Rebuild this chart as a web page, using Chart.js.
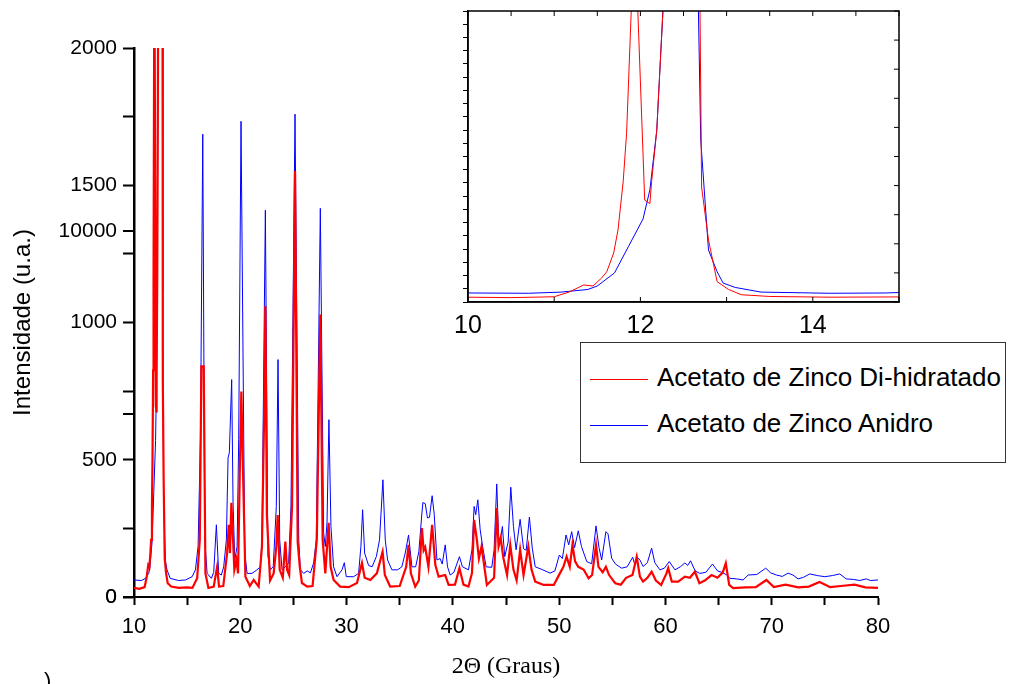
<!DOCTYPE html>
<html lang="pt">
<head>
    <meta charset="UTF-8">
    <title>DRX - Acetato de Zinco</title>
    <script src="https://cdn.jsdelivr.net/npm/chart.js"></script>
    <style>
        body {
            margin: 0;
            background: #fff;
            overflow: hidden;
            font-family: "Liberation Sans", Arial, sans-serif;
        }
        #wrap { position: relative; width: 1011px; height: 684px; overflow: hidden; }
        #principal { position: absolute; left: 0; top: 0; }
        #detalhe { position: absolute; left: 420px; top: 0; }
        #legenda {
            position: absolute; left: 580px; top: 342px;
            width: 424px; height: 119px;
            border: 1.5px solid #333; background: #fff;
        }
        .item { position: absolute; left: 9px; font-size: 26px; line-height: 30px; color: #000; white-space: nowrap; }
        .traco { display: inline-block; width: 58px; height: 0; border-top: 1px solid; vertical-align: middle; margin-right: 9px; }
        #canto { position: absolute; left: 44px; top: 668px; font-size: 22px; }
    </style>
</head>
<body>
<div id="wrap">
    <canvas id="principal" width="1011" height="684"></canvas>
    <canvas id="detalhe" width="500" height="345"></canvas>
    <div id="legenda"></div>
    <div id="canto">)</div>
</div>
<script>
const anguloDiHidratado = [
    10.0, 10.5, 11.0, 11.18, 11.34, 11.45, 11.55, 11.61, 11.69, 11.74, 11.80, 11.84, 11.90, 11.93, 11.97,
    12.05, 12.11, 12.13, 12.19, 12.27, 12.45, 12.69, 12.71, 12.79, 12.89, 13.02, 13.17, 13.5, 14.2, 15.0,
    15.5, 15.94, 16.19, 16.34, 16.56, 16.72, 17.0, 17.5, 17.82, 18.0, 18.4, 18.76, 18.91, 19.03, 19.16,
    19.32, 19.44, 19.63, 19.79, 19.95, 20.1, 20.26, 20.48, 20.9, 21.26, 21.73, 22.04, 22.26, 22.36, 22.5,
    22.8, 23.14, 23.39, 23.52, 23.71, 24.0, 24.24, 24.4, 24.6, 24.87, 25.15, 25.4, 25.6, 25.8, 26.3,
    26.8, 27.2, 27.53, 27.75, 28.0, 28.31, 28.5, 28.78, 29.4, 30.2, 30.98, 31.45, 31.7, 32.23, 32.85,
    33.39, 33.6, 34.1, 35.0, 35.61, 35.83, 36.05, 36.46, 36.8, 37.09, 37.25, 37.4, 37.7, 38.05, 38.35,
    38.66, 39.28, 39.6, 40.2, 40.62, 41.0, 41.47, 41.8, 42.0, 42.26, 42.45, 42.7, 43.2, 43.88, 44.13,
    44.3, 44.5, 44.75, 45.1, 45.4, 45.7, 46.0, 46.33, 46.65, 47.1, 47.4, 47.75, 48.54, 49.5, 50.08,
    50.4, 50.7, 51.0, 51.25, 51.5, 51.8, 52.3, 52.77, 53.1, 53.47, 53.7, 54.1, 54.4, 54.7, 55.28,
    55.8, 56.3, 56.9, 57.3, 57.6, 57.9, 58.3, 58.7, 59.1, 59.6, 60.1, 60.26, 60.6, 61.2, 61.83,
    62.3, 62.77, 63.2, 63.7, 64.34, 64.9, 65.4, 65.68, 66.0, 66.37, 67.5, 68.5, 69.5, 70.2, 71.3,
    72.5, 73.5, 74.5, 75.5, 76.5, 77.8, 78.8, 80.0
];
const intensidadeDiHidratado = [
    33, 30, 36, 70, 117, 110, 165, 208, 337, 495, 826, 1160, 2100, 4200, 2000,
    700, 676, 826, 1180, 2100, 9000, 2100, 790, 426, 140, 87, 50, 38, 33, 35,
    33, 68, 208, 840, 840, 86, 33, 38, 110, 38, 40, 160, 263, 160, 343,
    208, 99, 135, 86, 450, 749, 452, 74, 40, 62, 38, 184, 694, 1060, 300,
    60, 86, 184, 299, 99, 70, 202, 99, 80, 330, 1552, 200, 110, 51, 38,
    40, 208, 1029, 208, 86, 270, 110, 62, 38, 36, 51, 124, 70, 62, 86,
    165, 80, 38, 40, 110, 190, 86, 38, 60, 251, 170, 182, 110, 263, 117,
    74, 80, 44, 45, 105, 45, 38, 87, 281, 208, 140, 184, 44, 70, 324,
    184, 215, 143, 80, 190, 100, 60, 172, 80, 184, 100, 56, 44, 44, 87,
    110, 147, 110, 190, 130, 110, 100, 68, 80, 190, 110, 90, 110, 80, 50,
    45, 70, 80, 147, 74, 56, 70, 92, 60, 44, 86, 105, 56, 56, 74,
    70, 92, 50, 60, 80, 70, 90, 123, 44, 32, 35, 36, 62, 36, 45,
    35, 38, 55, 36, 40, 45, 35, 33
];
const anguloAnidro = [
    10.0, 10.7, 11.08, 11.39, 11.5, 11.7, 11.86, 12.03, 12.11, 12.19, 12.27, 12.45, 12.67, 12.70, 12.79,
    12.89, 12.96, 13.10, 13.4, 14.2, 14.84, 15.47, 15.78, 16.03, 16.25, 16.47, 16.66, 16.88, 17.28, 17.5,
    17.75, 17.97, 18.22, 18.44, 18.69, 18.85, 18.97, 19.19, 19.32, 19.48, 19.7, 19.85, 20.07, 20.42, 20.64,
    21.1, 21.57, 21.89, 22.04, 22.36, 22.6, 22.83, 23.1, 23.39, 23.55, 23.71, 23.93, 24.24, 24.55, 24.77,
    25.15, 25.5, 25.65, 25.96, 26.3, 26.6, 26.9, 27.15, 27.53, 27.84, 28.0, 28.16, 28.34, 28.53, 28.78,
    29.1, 29.57, 29.79, 29.97, 30.66, 31.13, 31.35, 31.51, 31.7, 32.07, 32.4, 32.8, 33.1, 33.42, 33.64,
    33.86, 34.26, 34.8, 35.2, 35.52, 35.83, 36.15, 36.5, 36.8, 37.09, 37.18, 37.4, 37.61, 37.8, 38.05,
    38.25, 38.5, 38.8, 39.0, 39.28, 39.5, 39.75, 40.1, 40.62, 40.9, 41.47, 41.8, 42.0, 42.15, 42.35,
    42.57, 42.82, 43.13, 43.66, 43.88, 44.13, 44.3, 44.45, 44.66, 44.88, 45.2, 45.45, 45.7, 45.95, 46.33,
    46.65, 46.9, 47.2, 47.47, 47.75, 48.4, 49.15, 49.6, 50.02, 50.3, 50.65, 50.9, 51.18, 51.45, 51.8,
    52.1, 52.6, 53.06, 53.47, 53.75, 54.0, 54.4, 54.6, 54.94, 55.3, 55.88, 56.4, 56.92, 57.1, 57.35,
    57.6, 57.9, 58.3, 58.7, 59.0, 59.48, 59.9, 60.36, 60.9, 61.4, 61.83, 62.1, 62.36, 62.8, 63.24,
    63.8, 64.43, 64.9, 65.3, 65.75, 66.06, 66.7, 67.31, 67.78, 68.6, 69.44, 69.9, 70.45, 71.0, 71.54,
    72.0, 72.48, 73.0, 73.58, 74.3, 75.0, 75.7, 76.4, 77.0, 77.7, 78.28, 78.9, 79.3, 80.0
];
const intensidadeAnidro = [
    62, 60, 68, 86, 110, 200, 380, 570, 770, 1180, 2100, 14000, 2100, 1113, 357,
    208, 130, 100, 68, 60, 62, 74, 99, 184, 573, 1686, 208, 86, 68, 90,
    263, 86, 80, 110, 208, 507, 525, 792, 343, 135, 184, 573, 1733, 160, 86,
    86, 99, 110, 208, 1409, 150, 99, 110, 330, 865, 208, 99, 110, 124, 330,
    1759, 208, 99, 86, 95, 88, 124, 208, 1416, 233, 184, 270, 646, 257, 110,
    74, 99, 125, 74, 74, 86, 184, 318, 160, 115, 110, 147, 208, 427, 208,
    135, 99, 99, 110, 160, 226, 110, 110, 165, 306, 344, 340, 288, 290, 369,
    300, 135, 140, 120, 190, 110, 80, 90, 147, 110, 99, 172, 330, 300, 354,
    245, 179, 110, 108, 172, 412, 220, 200, 257, 147, 200, 400, 257, 172, 283,
    176, 170, 291, 178, 110, 100, 87, 95, 153, 140, 226, 190, 238, 180, 241,
    184, 129, 121, 259, 180, 135, 238, 230, 141, 120, 105, 110, 145, 120, 145,
    135, 111, 125, 178, 125, 99, 105, 129, 99, 110, 124, 115, 132, 95, 86,
    90, 120, 95, 90, 81, 68, 66, 62, 80, 82, 105, 88, 80, 75, 87,
    80, 66, 72, 84, 78, 74, 78, 84, 66, 64, 60, 66, 60, 62
];

// eixo secundario sobreposto (0 e 10000)
const marcasEixoSecundario = [0, 5000, 10000];
const rotulosEixoSecundario = ['0', '', '10000'];
const rotulosDetalhe = [10, 12, 14];

const nomes = ['Acetato de Zinco Di-hidratado', 'Acetato de Zinco Anidro'];
const cores = ['#ff0000', '#0000ff'];

const sans = '"Liberation Sans", Arial, sans-serif';
const serif = '"Liberation Serif", "Times New Roman", serif';

function pares(xs, ys) {
    return xs.map((x, i) => ({ x: x, y: ys[i] }));
}

function series(larguraVermelho) {
    return [
        { label: nomes[0], data: pares(anguloDiHidratado, intensidadeDiHidratado), borderColor: cores[0], borderWidth: larguraVermelho },
        { label: nomes[1], data: pares(anguloAnidro, intensidadeAnidro), borderColor: cores[1], borderWidth: 1 }
    ];
}

const comum = {
    responsive: false,
    animation: false,
    elements: { point: { radius: 0 }, line: { tension: 0 } },
    plugins: { legend: { display: false }, tooltip: { enabled: false } }
};

// desenha o eixo sobreposto (0 / 10000) junto ao eixo y principal
const eixoSecundario = {
    id: 'eixoSecundario',
    afterDraw(chart) {
        const { ctx } = chart;
        const s = chart.scales.y2;
        const borda = chart.scales.y.right;
        ctx.save();
        ctx.strokeStyle = '#000';
        ctx.fillStyle = '#000';
        ctx.lineWidth = 2;
        ctx.font = '21px ' + sans;
        ctx.textAlign = 'right';
        ctx.textBaseline = 'middle';
        marcasEixoSecundario.forEach((v, i) => {
            const py = s.getPixelForValue(v);
            ctx.beginPath();
            ctx.moveTo(borda - 11, py);
            ctx.lineTo(borda, py);
            ctx.stroke();
            if (rotulosEixoSecundario[i]) ctx.fillText(rotulosEixoSecundario[i], borda - 17, py);
        });
        ctx.restore();
    }
};

new Chart(document.getElementById('principal'), {
    type: 'line',
    data: { datasets: series(2.2) },
    options: {
        ...comum,
        layout: { padding: { left: 0, top: 48, right: 133, bottom: 0 } },
        scales: {
            x: {
                type: 'linear', position: 'bottom', min: 10, max: 80,
                ticks: {
                    stepSize: 5, autoSkip: false, maxRotation: 0, padding: 9, color: '#000',
                    font: { family: sans, size: 22 },
                    callback: v => (v % 10 === 0 ? v : '')
                },
                grid: { drawOnChartArea: false, tickLength: 8, tickWidth: 2, tickColor: '#000' },
                border: { color: '#000', width: 2 },
                title: { display: true, text: '2Θ (Graus)', color: '#000', font: { family: serif, size: 24 }, padding: { top: 0, bottom: 3 } },
                afterFit: s => { s.height = 87; }
            },
            y: {
                position: 'left', min: 0, max: 2000,
                ticks: {
                    stepSize: 250, autoSkip: false, padding: 6, color: '#000',
                    font: { family: sans, size: 21 },
                    callback: v => (v % 500 === 0 ? v : '')
                },
                grid: { drawOnChartArea: false, tickLength: 11, tickWidth: 2, tickColor: '#000' },
                border: { color: '#000', width: 2.5 },
                title: { display: true, text: 'Intensidade (u.a.)', color: '#000', font: { family: sans, size: 24 }, padding: { top: 9, bottom: 0 } },
                afterFit: s => { s.width = 134; }
            },
            y2: {
                display: false, position: 'left', min: 0, max: 15000
            }
        }
    },
    plugins: [eixoSecundario]
});

// moldura do detalhe com marcas internas
const molduraDetalhe = {
    id: 'molduraDetalhe',
    afterDraw(chart) {
        const { ctx, chartArea: a, scales } = chart;
        const linha = (x1, y1, x2, y2) => { ctx.beginPath(); ctx.moveTo(x1, y1); ctx.lineTo(x2, y2); ctx.stroke(); };
        ctx.save();
        ctx.strokeStyle = '#000';
        ctx.lineWidth = 1.5;
        ctx.strokeRect(a.left, a.top, a.right - a.left, a.bottom - a.top);
        ctx.lineWidth = 1;
        scales.x.ticks.forEach(t => {
            const px = scales.x.getPixelForValue(t.value);
            linha(px, a.top, px, a.top + 5);
            if (Number.isInteger(t.value)) linha(px, a.bottom, px, a.bottom - 5);
        });
        scales.yDir.ticks.forEach(t => {
            const py = scales.yDir.getPixelForValue(t.value);
            linha(a.right, py, a.right - 5, py);
        });
        ctx.restore();
    }
};

new Chart(document.getElementById('detalhe'), {
    type: 'line',
    data: { datasets: series(1) },
    options: {
        ...comum,
        layout: { padding: { left: 40, top: 11, right: 21, bottom: 0 } },
        scales: {
            x: {
                type: 'linear', position: 'bottom', min: 10, max: 15,
                ticks: {
                    stepSize: 0.5, autoSkip: false, maxRotation: 0, padding: 9, color: '#000',
                    font: { family: sans, size: 25 },
                    callback: v => (rotulosDetalhe.includes(v) ? v : '')
                },
                grid: { drawOnChartArea: false, drawTicks: false },
                border: { color: '#000', width: 1.5 },
                afterFit: s => { s.height = 43; }
            },
            y: {
                position: 'left', min: 0, max: 2000,
                ticks: { display: false, count: 23 },
                grid: { drawOnChartArea: false, tickLength: 5, tickColor: '#000' },
                border: { color: '#000', width: 1.5 },
                afterFit: s => { s.width = 8; }
            },
            yDir: {
                position: 'right', min: 0, max: 2000,
                ticks: { display: false, count: 11 },
                grid: { display: false },
                border: { display: false },
                afterFit: s => { s.width = 0; }
            }
        }
    },
    plugins: [molduraDetalhe]
});

// legenda em texto
const legenda = document.getElementById('legenda');
nomes.forEach((nome, i) => {
    const item = document.createElement('div');
    item.className = 'item';
    item.style.top = (19 + i * 46) + 'px';
    item.innerHTML = '<span class="traco" style="border-color:' + cores[i] + '"></span>' + nome;
    legenda.appendChild(item);
});
</script>
</body>
</html>
